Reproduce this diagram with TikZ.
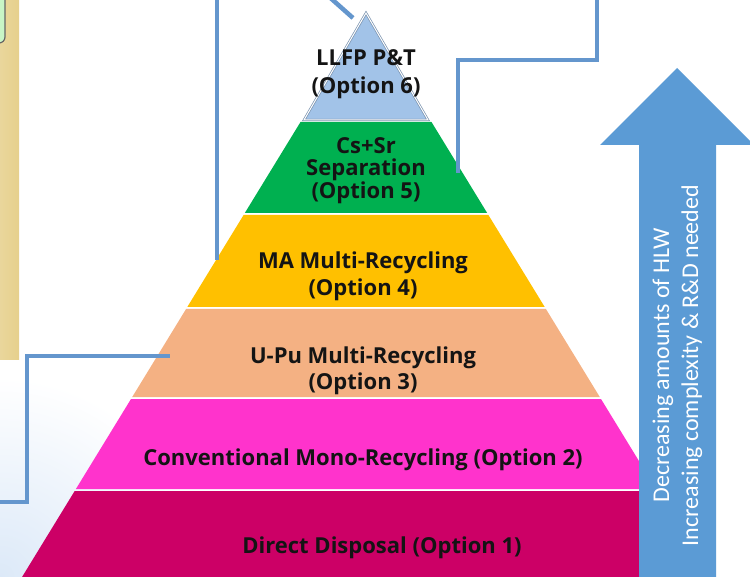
\documentclass[tikz,border=0pt]{standalone}
\usepackage{fontspec}
\newfontfamily\pyrfont{Open Sans}
\newfontfamily\arrfont{Carlito}
\definecolor{lvsix}{HTML}{A2C3E8}
\definecolor{lvfive}{HTML}{00B050}
\definecolor{lvfour}{HTML}{FFC000}
\definecolor{lvthree}{HTML}{F4B183}
\definecolor{lvtwo}{HTML}{FF33CC}
\definecolor{lvone}{HTML}{CC0066}
\definecolor{arrblue}{HTML}{5B9BD5}
\definecolor{connblue}{RGB}{100,150,205}
\definecolor{tanpanel}{HTML}{E6D08C}
\definecolor{tintblue}{HTML}{DCE9F8}
\definecolor{boxgreen}{HTML}{C8F5C6}
\definecolor{txtdark}{HTML}{141414}
\newcommand\pcx{366}
\newcommand\pay{15}
\newcommand\psl{0.612}
\newcommand\pyrband[3]{\fill[#3] ({\pcx-\psl*(#1-\pay)},#1) -- ({\pcx+\psl*(#1-\pay)},#1) -- ({\pcx+\psl*(#2-\pay)},#2) -- ({\pcx-\psl*(#2-\pay)},#2) -- cycle;}
\tikzset{
  conn/.style={draw=connblue, line width=4.5pt, line join=miter},
  lvtext/.style={text=txtdark, font=\pyrfont\bfseries\fontsize{22}{27}\selectfont, align=center, inner sep=0pt},
}
\begin{document}
\begin{tikzpicture}[x=1pt,y=-1pt]
\useasboundingbox (0,0) rectangle (750,577);
\clip (0,0) rectangle (750,577);
% background tint bottom-left
\shade[inner color=tintblue, outer color=white] (0,577) circle (200);
% left panel
\shade[left color=tanpanel!85!white, right color=tanpanel] (-2,-2) rectangle (19,360);
\filldraw[fill=boxgreen, draw=black!60, line width=1.2pt, rounded corners=6pt] (-20,-20) rectangle (5,43);
% pyramid bands
\pyrband{491}{600}{lvone}
\pyrband{399}{489}{lvtwo}
\pyrband{309}{397}{lvthree}
\pyrband{215}{307}{lvfour}
\pyrband{122}{213}{lvfive}
\draw[draw=black!25!lvsix, line width=2.4pt, line join=miter, fill=lvsix] (366,13) -- (304,120) -- (428,120) -- cycle;
\draw[draw=white, line width=1pt, line join=miter] (366,13) -- (304,120) -- (428,120) -- cycle;
% texts
\node[lvtext, font=\pyrfont\bfseries\fontsize{22}{28}\selectfont] (t6) at (366,74.5) {LLFP P\&T\\(Option 6)};
\node[lvtext, font=\pyrfont\bfseries\fontsize{22}{22.5}\selectfont] (t5) at (366,170.5) {Cs+Sr\\Separation\\(Option 5)};
\node[lvtext] (t4) at (363,276) {MA Multi-Recycling\\(Option 4)};
\node[lvtext, font=\pyrfont\bfseries\fontsize{22}{26}\selectfont] (t3) at (363,370.5) {U-Pu Multi-Recycling\\(Option 3)};
\node[lvtext] (t2) at (363,459.5) {Conventional Mono-Recycling (Option 2)};
\node[lvtext] (t1) at (382,547.5) {Direct Disposal (Option 1)};
% arrow
\fill[arrblue] (677,68) -- (754,145) -- (716,145) -- (716,600) -- (639,600) -- (639,145) -- (600,145) -- cycle;
\node[rotate=90, text=white, font=\arrfont\fontsize{24}{29}\selectfont, align=center, inner sep=0pt] (arrtext) at (677.5,365.5) {Decreasing amounts of HLW\\Increasing complexity \& R\&D needed};
% connectors
\coordinate (c1a) at (217,-6);
\coordinate (c1b) at (217,260);
\draw[conn] (c1a) -- (c1b);
\coordinate (c2a) at (326,-6);
\coordinate (c2b) at (353,18);
\draw[conn] (c2a) -- (c2b);
\coordinate (c3a) at (597,-6);
\coordinate (c3b) at (458,60);
\coordinate (c3c) at (458,173);
\draw[conn] (c3a) |- (c3b) -- (c3c);
\coordinate (c4a) at (-6,502);
\coordinate (c4b) at (27,356);
\coordinate (c4c) at (170,356);
\draw[conn] (c4a) -| (c4b) -- (c4c);
\end{tikzpicture}
\end{document}
